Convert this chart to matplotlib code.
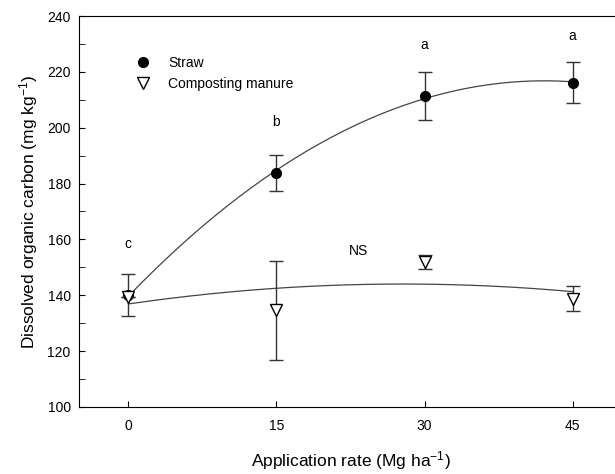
import numpy as np
import matplotlib
matplotlib.use("Agg")
import matplotlib.pyplot as plt
from matplotlib.ticker import MultipleLocator
from matplotlib.lines import Line2D

plt.rcParams['font.family'] = ['Liberation Sans', 'DejaVu Sans']

rate = [0, 15, 30, 45]
straw = [140.0, 183.8, 211.4, 216.1]
straw_err = [7.5, 6.5, 8.7, 7.3]
manure = [139.5, 134.7, 151.8, 138.7]
manure_err = [0.0, 17.7, 2.5, 4.5]
letters = ['c', 'b', 'a', 'a']
letter_y = [158.5, 202.0, 229.5, 233.0]

fig = plt.figure(figsize=(6.15, 4.74), dpi=100)
ax = fig.add_axes([79 / 615, 1 - 407 / 474, (622 - 79) / 615, (407 - 16) / 474])

# quadratic fits
xx = np.linspace(0, 45, 200)
ps = np.polyfit(rate, straw, 2)
pm = np.polyfit(rate, manure, 2)
ax.plot(xx, np.polyval(ps, xx), color='#444444', lw=0.9, zorder=2)
ax.plot(xx, np.polyval(pm, xx), color='#444444', lw=0.9, zorder=2)

ax.errorbar(rate, straw, yerr=straw_err, fmt='o', color='black', ms=7,
            ecolor='#333333', elinewidth=1, capsize=5, capthick=1, zorder=3)
ax.errorbar(rate, manure, yerr=manure_err, fmt='v', mfc='white', mec='black',
            mew=1, ms=8, ecolor='#333333', elinewidth=1, capsize=5, capthick=1,
            zorder=4)

for x, t, y in zip(rate, letters, letter_y):
    ax.text(x, y, t, ha='center', va='center', fontsize=10)
ax.text(23.3, 156, 'NS', ha='center', va='center', fontsize=10)

ax.set_xlim(-5, 50)
ax.set_ylim(100, 240)
ax.set_xticks(rate)
ax.yaxis.set_major_locator(MultipleLocator(20))
ax.yaxis.set_minor_locator(MultipleLocator(10))
ax.tick_params(direction='in', length=4, labelsize=10, pad=6)
ax.tick_params(which='minor', direction='in', length=4)
ax.tick_params(axis='x', pad=9)
ax.spines['right'].set_visible(False)

ax.set_xlabel(r'Application rate (Mg ha$\mathregular{^{-1}}$)', fontsize=12.5, labelpad=11)
ax.set_ylabel(r'Dissolved organic carbon (mg kg$\mathregular{^{-1}}$)', fontsize=12.5, labelpad=5)

handles = [Line2D([], [], ls='none', marker='o', color='black', ms=7),
           Line2D([], [], ls='none', marker='v', mfc='white', mec='black', mew=1, ms=8)]
ax.legend(handles, ['Straw', 'Composting manure'], loc='upper left',
          bbox_to_anchor=(0.08, 0.93), frameon=False, fontsize=10,
          handlelength=1.2, handletextpad=1.2, labelspacing=0.5)

fig.savefig('out.png', dpi=100)
